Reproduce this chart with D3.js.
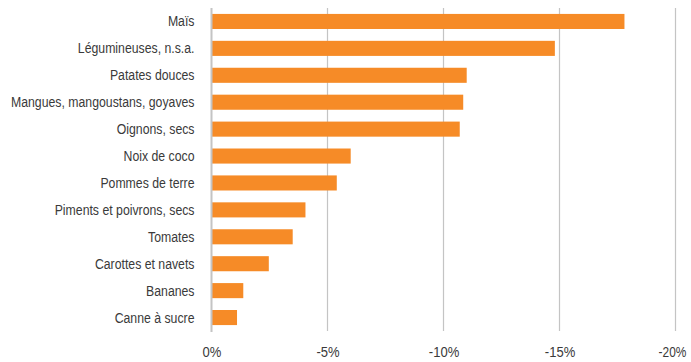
<!DOCTYPE html>
<html>
<head>
<meta charset="utf-8">
<script src="https://cdn.jsdelivr.net/npm/d3@7"></script>
<style>
html,body{margin:0;padding:0;background:#fff;}
svg{display:block;}
text{font-family:"Liberation Sans",Arial,sans-serif;}
</style>
</head>
<body>
<svg id="chart" width="691" height="362"></svg>
<script>
const categories = ["Maïs","Légumineuses, n.s.a.","Patates douces","Mangues, mangoustans, goyaves","Oignons, secs","Noix de coco","Pommes de terre","Piments et poivrons, secs","Tomates","Carottes et navets","Bananes","Canne à sucre"];
const values = [-17.8,-14.8,-11.0,-10.85,-10.7,-6.0,-5.4,-4.05,-3.5,-2.47,-1.37,-1.1];
const tickValues = [0,-5,-10,-15,-20];
const tickLabels = ["0%","-5%","-10%","-15%","-20%"];

const svg = d3.select("#chart");
const x = d3.scaleLinear().domain([0,-20]).range([211.5,675.5]);
const y = d3.scaleBand().domain(categories).range([8,331]).paddingInner(0.44).paddingOuter(0.22);

// gridlines
svg.append("g").selectAll("line").data(tickValues.slice(1)).join("line")
  .attr("x1",d=>x(d)).attr("x2",d=>x(d)).attr("y1",8).attr("y2",331)
  .attr("stroke","#c4c4c4").attr("stroke-width",1.2);

// bars
svg.append("g").selectAll("rect").data(values).join("rect")
  .attr("x",x(0)).attr("y",(d,i)=>y(categories[i]))
  .attr("width",d=>x(d)-x(0)).attr("height",y.bandwidth())
  .attr("fill","#f68b27");

// zero axis
svg.append("line").attr("x1",x(0)).attr("x2",x(0)).attr("y1",8).attr("y2",332)
  .attr("stroke","#c4c4c4").attr("stroke-width",2);

function condense(sel, factor){
  sel.each(function(){
    const w = this.getComputedTextLength();
    d3.select(this).attr("textLength", w*factor).attr("lengthAdjust","spacingAndGlyphs");
  });
}

// category labels
const labels = svg.append("g").selectAll("text").data(categories).join("text")
  .attr("x",194.5).attr("y",d=>y(d)+y.bandwidth()/2)
  .attr("dy","0.36em").attr("text-anchor","end")
  .attr("font-size",14).attr("fill","#3a3a3a")
  .text(d=>d);
let maxW = 0;
labels.each(function(){ maxW = Math.max(maxW, this.getComputedTextLength()); });
condense(labels, 183.5 / maxW);

// tick labels
const xAxis = d3.axisBottom(x).tickValues(tickValues).tickFormat((d,i)=>tickLabels[i]).tickSize(0).tickPadding(0);
const ax = svg.append("g").attr("transform","translate(0,347.5)").call(xAxis);
ax.select(".domain").remove();
ax.selectAll("text").attr("font-size",14).attr("fill","#3a3a3a").attr("font-family","Liberation Sans, Arial, sans-serif").attr("dy","0.71em");
condense(ax.selectAll(".tick").filter(d=>d!==-20).select("text"), 0.93);
const last = ax.selectAll(".tick").filter(d=>d===-20);
last.attr("transform",`translate(${x(-20)-3},0)`);
condense(last.select("text"), 0.85);
</script>
</body>
</html>
